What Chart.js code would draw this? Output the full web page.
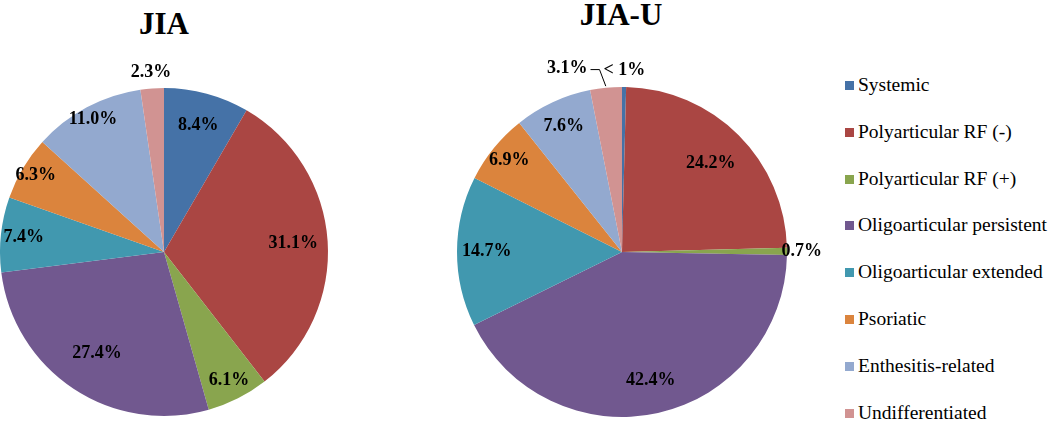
<!DOCTYPE html>
<html>
<head>
<meta charset="utf-8">
<script src="https://cdn.jsdelivr.net/npm/chart.js@4"></script>
<style>
  body { margin: 0; background: #fff; }
  #wrap { position: relative; width: 1050px; height: 422px; overflow: hidden; font-family: "Liberation Serif", serif; }
  canvas { position: absolute; top: 0; }
  .title { position: absolute; font-family: "Liberation Serif", serif; font-weight: bold; font-size: 31px; text-align: center; width: 200px; }
  #legend { position: absolute; left: 845px; top: 0; }
  .item { position: absolute; white-space: nowrap; font-family: "Liberation Serif", serif; font-size: 19.5px; line-height: 20px; color: #000; }
  .item span.box { display: inline-block; width: 9px; height: 9px; margin-right: 4px; vertical-align: 1px; }
</style>
</head>
<body>
<div id="wrap">
  <div class="title" style="left:64px; top:6px;">JIA</div>
  <div class="title" style="left:521px; top:-3px;">JIA-U</div>
  <canvas id="jia" width="340" height="422" style="left:0px; width:340px; height:422px;"></canvas>
  <canvas id="jiau" width="390" height="422" style="left:440px; width:390px; height:422px;"></canvas>
  <div id="legend"></div>
</div>
<script>
const categories = ['Systemic', 'Polyarticular RF (-)', 'Polyarticular RF (+)', 'Oligoarticular persistent',
    'Oligoarticular extended', 'Psoriatic', 'Enthesitis-related', 'Undifferentiated'];
const jiaValues = [8.4, 31.1, 6.1, 27.4, 7.4, 6.3, 11.0, 2.3];
const jiaUValues = [0.4, 24.2, 0.7, 42.4, 14.7, 6.9, 7.6, 3.1];
const jiaText = ['8.4%', '31.1%', '6.1%', '27.4%', '7.4%', '6.3%', '11.0%', '2.3%'];
const jiaUText = ['< 1%', '24.2%', '0.7%', '42.4%', '14.7%', '6.9%', '7.6%', '3.1%'];
const colors = ['#4572a7', '#aa4643', '#89a54e', '#71588f', '#4198af', '#db843d', '#93a9cf', '#d19392'];

// label distance from centre as a fraction of the radius, per slice
const jiaLabelR = [0.8, 0.79, 0.88, 0.74, 0.86, 0.91, 0.92, 1.1];
const jiaULabelR = [1.1, 0.76, 1.09, 0.8, 0.82, 0.88, 0.84, 1.16];

const sliceLabels = {
    id: 'sliceLabels',
    afterDatasetsDraw(chart, args, opts) {
        const ctx = chart.ctx;
        const meta = chart.getDatasetMeta(0);
        ctx.save();
        ctx.font = 'bold 18px "Liberation Serif", serif';
        ctx.fillStyle = '#000';
        ctx.textAlign = 'center';
        ctx.textBaseline = 'middle';
        meta.data.forEach((arc, i) => {
            const r = arc.outerRadius;
            let a = (arc.startAngle + arc.endAngle) / 2;
            const lead = opts.leader && opts.leader.index === i;
            if (lead) a = opts.leader.angle;
            const x = arc.x + Math.cos(a) * r * opts.radii[i];
            const y = arc.y + Math.sin(a) * r * opts.radii[i];
            const txt = opts.text[i];
            ctx.fillText(txt, x, y);
            if (lead) {
                const mid = (arc.startAngle + arc.endAngle) / 2;
                const ex = arc.x + Math.cos(mid) * r * 1.01;
                const ey = arc.y + Math.sin(mid) * r * 1.01;
                const w = ctx.measureText(txt).width;
                ctx.strokeStyle = '#000';
                ctx.lineWidth = 1;
                ctx.beginPath();
                ctx.moveTo(x + w / 2 + 3, y + 1);
                ctx.lineTo(x + w / 2 + 12, y + 1);
                ctx.lineTo(ex, ey);
                ctx.stroke();
            }
        });
        ctx.restore();
    }
};

function makePie(id, values, text, radii, padding, leader) {
    new Chart(document.getElementById(id), {
        type: 'pie',
        data: {
            labels: categories,
            datasets: [{
                data: values,
                backgroundColor: colors,
                borderWidth: 0
            }]
        },
        options: {
            responsive: false,
            animation: false,
            layout: { padding: padding },
            plugins: {
                legend: { display: false },
                tooltip: { enabled: false },
                sliceLabels: { radii: radii, text: text, leader: leader }
            }
        },
        plugins: [sliceLabels]
    });
}

makePie('jia', jiaValues, jiaText, jiaLabelR, { top: 88, bottom: 6, left: 0, right: 12 }, null);
makePie('jiau', jiaUValues, jiaUText, jiaULabelR, { top: 87, bottom: 5, left: 17, right: 43 },
    { index: 7, angle: -Math.PI / 2 - 0.29 });

const legend = document.getElementById('legend');
categories.forEach((c, i) => {
    const d = document.createElement('div');
    d.className = 'item';
    d.style.top = (75 + i * 46.8) + 'px';
    d.innerHTML = '<span class="box" style="background:' + colors[i] + '"></span>' + c;
    legend.appendChild(d);
});
</script>
</body>
</html>
